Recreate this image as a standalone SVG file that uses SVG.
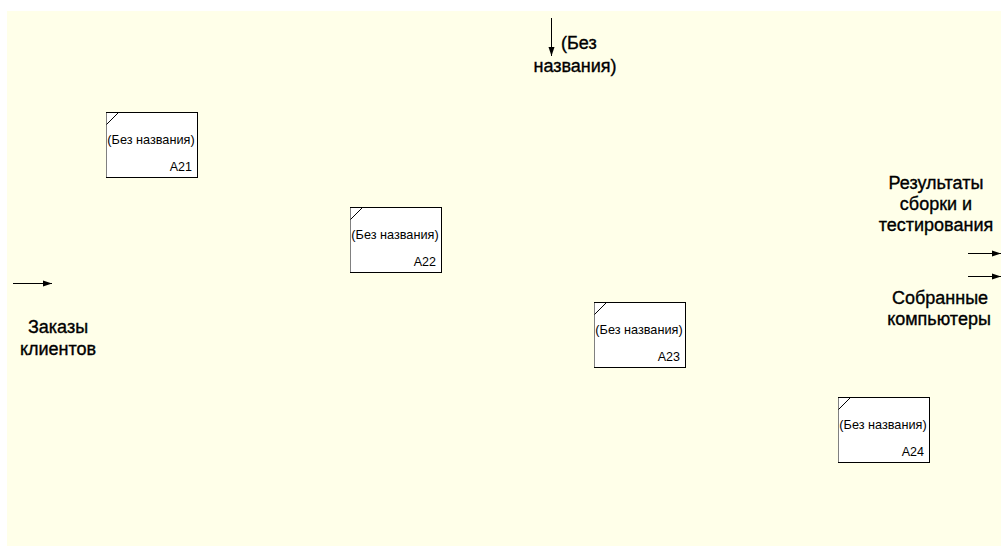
<svg xmlns="http://www.w3.org/2000/svg" width="1001" height="546" viewBox="0 0 1001 546">
<defs>
<marker id="arr" markerWidth="10" markerHeight="8" refX="9" refY="4" orient="auto" markerUnits="userSpaceOnUse">
<path d="M0,1 L9,4 L0,7 Z" fill="#000"/>
</marker>
<style>
.box{fill:#fff;stroke:#000;stroke-width:1}
.edge{stroke:#808080;stroke-width:1}
.diag{stroke:#000;stroke-width:1}
.nt{font-family:"Liberation Sans",Arial,sans-serif;font-size:12.7px;fill:#000;text-anchor:middle}
.id{font-family:"Liberation Sans",Arial,sans-serif;font-size:12.5px;fill:#000;text-anchor:end}
.lbl{font-family:"Liberation Sans",Arial,sans-serif;font-size:18px;fill:#000;stroke:#000;stroke-width:0.35;text-anchor:middle}
.conn{stroke:#000;stroke-width:1;fill:none}
</style>
</defs>
<rect x="0" y="0" width="1001" height="546" fill="#fff"/>
<rect x="7" y="11" width="994" height="535" fill="#ffffe9"/>

<g id="A21">
<rect class="box" x="106.5" y="112.5" width="91" height="65"/>
<line class="edge" x1="106.5" y1="113" x2="106.5" y2="177"/>
<line class="diag" x1="106.5" y1="124.5" x2="118.5" y2="112.5"/>
<text class="nt" x="151" y="144">(Без названия)</text>
<text class="id" x="192" y="171">A21</text>
</g>
<g id="A22">
<rect class="box" x="350.5" y="207.5" width="91" height="65"/>
<line class="edge" x1="350.5" y1="208" x2="350.5" y2="272"/>
<line class="diag" x1="350.5" y1="219.5" x2="362.5" y2="207.5"/>
<text class="nt" x="395" y="239">(Без названия)</text>
<text class="id" x="436" y="266">A22</text>
</g>
<g id="A23">
<rect class="box" x="594.5" y="302.5" width="91" height="65"/>
<line class="edge" x1="594.5" y1="303" x2="594.5" y2="367"/>
<line class="diag" x1="594.5" y1="314.5" x2="606.5" y2="302.5"/>
<text class="nt" x="639" y="334">(Без названия)</text>
<text class="id" x="680" y="361">A23</text>
</g>
<g id="A24">
<rect class="box" x="838.5" y="397.5" width="91" height="65"/>
<line class="edge" x1="838.5" y1="398" x2="838.5" y2="462"/>
<line class="diag" x1="838.5" y1="409.5" x2="850.5" y2="397.5"/>
<text class="nt" x="883" y="429">(Без названия)</text>
<text class="id" x="924" y="456">A24</text>
</g>

<g id="connectors">
<line class="conn" x1="551.5" y1="18" x2="551.5" y2="56" marker-end="url(#arr)"/>
<line class="conn" x1="13" y1="283.5" x2="52" y2="283.5" marker-end="url(#arr)"/>
<line class="conn" x1="968" y1="253.5" x2="1001" y2="253.5" marker-end="url(#arr)"/>
<line class="conn" x1="968" y1="276.5" x2="1001" y2="276.5" marker-end="url(#arr)"/>
</g>

<g id="labels">
<text class="lbl" x="561" y="49" style="text-anchor:start">(Без</text>
<text class="lbl" x="575" y="72">названия)</text>
<text class="lbl" x="58" y="333">Заказы</text>
<text class="lbl" x="58" y="355">клиентов</text>
<text class="lbl" x="936" y="189">Результаты</text>
<text class="lbl" x="936" y="210">сборки и</text>
<text class="lbl" x="936" y="231">тестирования</text>
<text class="lbl" x="940" y="304">Собранные</text>
<text class="lbl" x="939" y="325">компьютеры</text>
</g>
</svg>
